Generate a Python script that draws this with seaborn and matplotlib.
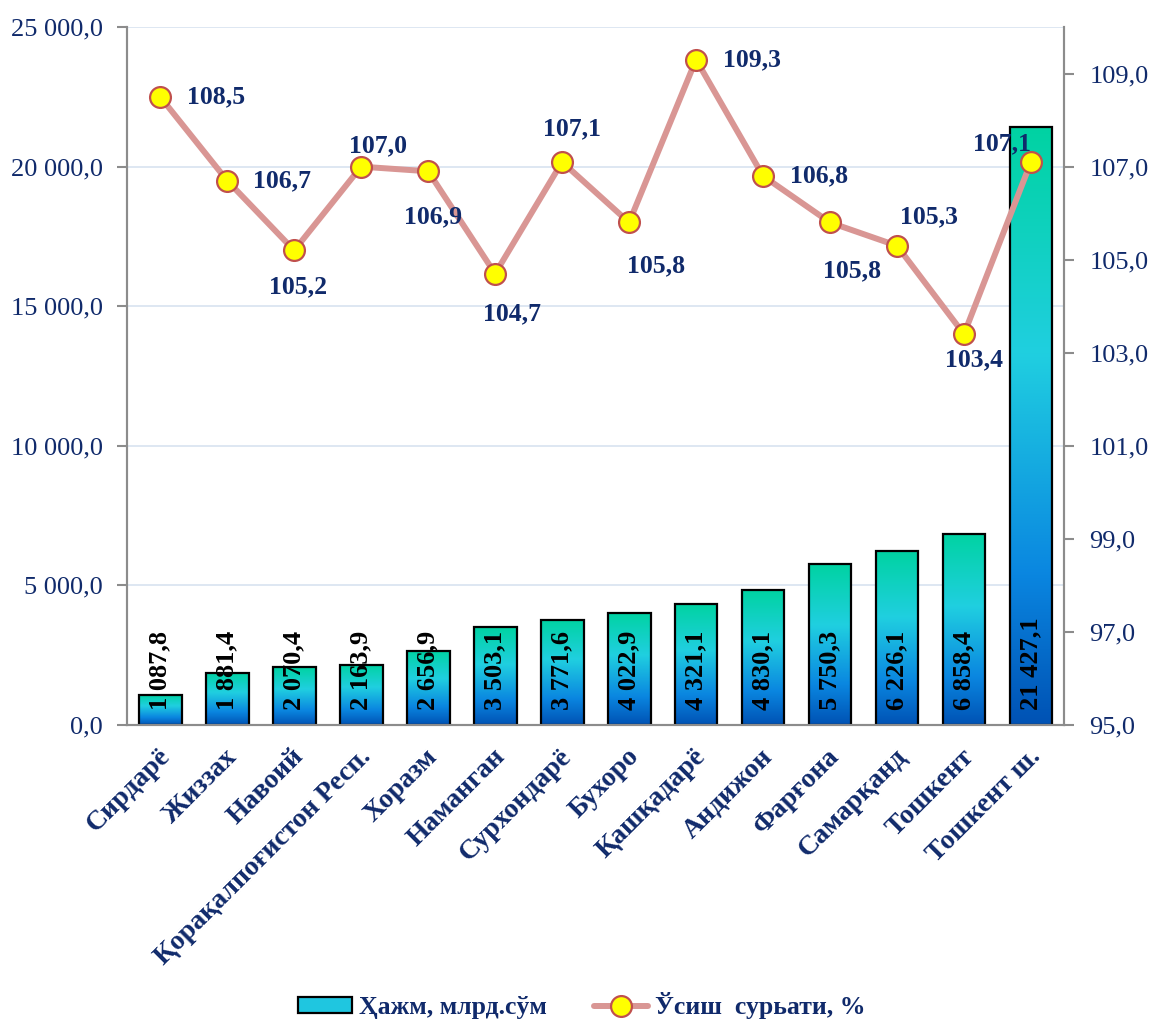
"""
Regional volume (bars) and growth rate (line) chart.
"""
import numpy as np
import matplotlib
matplotlib.use('Agg')
import matplotlib.pyplot as plt
from matplotlib.colors import LinearSegmentedColormap
from matplotlib.patches import Patch
from matplotlib.lines import Line2D
from matplotlib.ticker import FuncFormatter, MultipleLocator, FixedLocator
from matplotlib.transforms import ScaledTranslation
import seaborn as sns

regions = ["Сирдарё", "Жиззах", "Навоий", "Қорақалпоғистон Респ.", "Хоразм",
           "Наманган", "Сурхондарё", "Бухоро", "Қашқадарё", "Андижон",
           "Фарғона", "Самарқанд", "Тошкент", "Тошкент ш."]
volume = [1087.8, 1881.4, 2070.4, 2163.9, 2656.9, 3503.1, 3771.6, 4022.9,
          4321.1, 4830.1, 5750.3, 6226.1, 6858.4, 21427.1]
growth = [108.5, 106.7, 105.2, 107.0, 106.9, 104.7, 107.1, 105.8, 109.3,
          106.8, 105.8, 105.3, 103.4, 107.1]
bar_label = "Ҳажм, млрд.сўм"
line_label = "Ўсиш  сурьати, %"

# label offsets (pixels) of the growth labels from their markers
label_dx = [56, 55, 4, 17, 5, 17, 10, 27, 56, 56, 22, 32, 10, -29]
label_dy = [0, 0, -36, 21, -46, -40, 33, -43, 0, 0, -48, 29, -26, 18]

NAVY = '#102a6b'
sns.set_style('white')
plt.rcParams['font.family'] = ['Liberation Serif', 'DejaVu Serif']


def num(v):
    return f"{v:,.1f}".replace(',', ' ').replace('.', ',')


fig = plt.figure(figsize=(11.52, 10.28), dpi=100)
ax = fig.add_axes([0.110, 0.2947, 0.924 - 0.110, 0.9737 - 0.2947])

sns.barplot(x=regions, y=volume, ax=ax, width=0.64, facecolor='none',
            edgecolor='black', linewidth=1.6, zorder=3)

grad = LinearSegmentedColormap.from_list(
    'bar', [(0.0, '#0052b4'), (0.25, '#0a86e0'), (0.62, '#20cfe0'), (1.0, '#00d3a2')])
img = grad(np.linspace(0, 1, 256)).reshape(256, 1, 4)
for p in ax.patches:
    x0, w, h = p.get_x(), p.get_width(), p.get_height()
    im = ax.imshow(img, extent=[x0, x0 + w, 0, h], origin='lower',
                   aspect='auto', zorder=2, interpolation='bilinear')
    im.set_clip_path(p)

for i, v in enumerate(volume):
    ax.annotate(num(v), (i, 0), xytext=(0, 15), textcoords='offset pixels',
                rotation=90, ha='center', va='bottom', fontsize=19,
                fontweight='bold', color='black', zorder=4)

ax.set_xlim(-0.5, len(regions) - 0.5)
ax.set_ylim(0, 25000)
ax.yaxis.set_major_locator(MultipleLocator(5000))
ax.yaxis.set_major_formatter(FuncFormatter(lambda v, _: num(v)))
ax.yaxis.grid(True, color='#dbe5f1', lw=1.3)
ax.set_axisbelow(True)
ax.set_xlabel('')
ax.set_ylabel('')

ax.set_xticks(range(len(regions)))
ax.xaxis.set_minor_locator(FixedLocator(np.arange(-0.5, len(regions), 1)))
ax.tick_params(axis='x', which='major', length=0)
ax.tick_params(axis='x', which='minor', length=7, width=1.5, color='#8c8c8c', direction='out')
ax.tick_params(axis='y', length=7, width=1.5, color='#8c8c8c', labelsize=19,
               labelcolor=NAVY, pad=10)
ax.set_xticklabels(regions, rotation=45, ha='right', va='center',
                   rotation_mode='anchor', fontsize=20, fontweight='bold', color=NAVY)
# tick_params resets label transforms, so shift the labels afterwards
shift = ScaledTranslation(6 / 100, -23 / 100, fig.dpi_scale_trans)
for lab in ax.get_xticklabels():
    lab.set_transform(lab.get_transform() + shift)

ax2 = ax.twinx()
xpos = np.arange(len(regions))
sns.lineplot(x=xpos, y=growth, ax=ax2, color='#d99694', lw=4.3, marker='o',
             markersize=15, markerfacecolor='#ffff00', markeredgecolor='#c0504d',
             markeredgewidth=1.6, zorder=5)
for i, g in enumerate(growth):
    ax2.annotate(num(g), (i, g), xytext=(label_dx[i], label_dy[i]),
                 textcoords='offset pixels', ha='center', va='center',
                 fontsize=18.5, fontweight='bold', color=NAVY, zorder=6)
ax2.set_ylim(95, 110)
ax2.set_yticks(np.arange(95, 110, 2))
ax2.yaxis.set_major_formatter(FuncFormatter(lambda v, _: num(v)))
ax2.tick_params(axis='y', length=7, width=1.5, color='#8c8c8c', labelsize=19,
                labelcolor=NAVY, pad=11)
ax2.set_ylabel('')

for a in (ax, ax2):
    a.spines['top'].set_visible(False)
    for s in ('left', 'right', 'bottom'):
        a.spines[s].set_color('#8c8c8c')
        a.spines[s].set_linewidth(1.5)

handles = [Patch(facecolor='#1fc6e0', edgecolor='black', linewidth=1.6),
           Line2D([0], [0], color='#d99694', lw=4.3, marker='o', markersize=15,
                  markerfacecolor='#ffff00', markeredgecolor='#c0504d',
                  markeredgewidth=1.6)]
fig.legend(handles, [bar_label, line_label], loc='lower center',
           bbox_to_anchor=(0.505, -0.014), ncol=2, frameon=False,
           prop={'size': 18.5, 'weight': 'bold'}, labelcolor=NAVY,
           handlelength=2.1, handleheight=0.55, columnspacing=1.8, handletextpad=0.3)

fig.savefig('out.png', dpi=100)
plt.close()
